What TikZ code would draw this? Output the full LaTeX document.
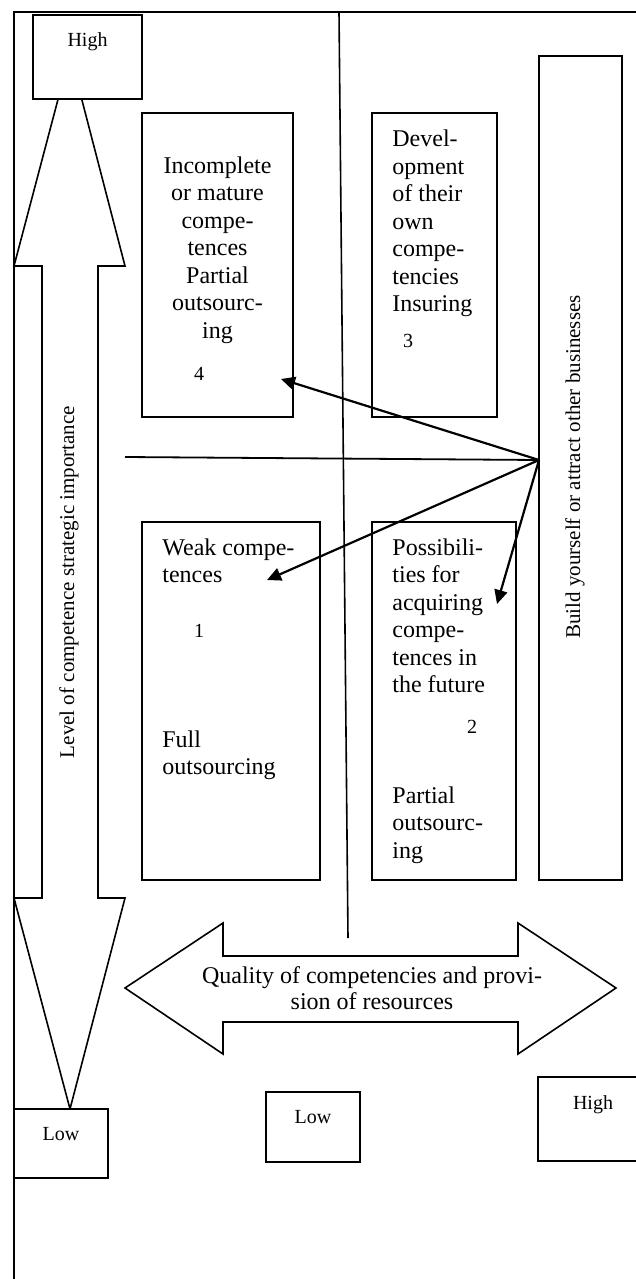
\documentclass[tikz,border=0pt]{standalone}
\usepackage{fontspec}
\setmainfont{Liberation Serif}
\usetikzlibrary{positioning, arrows.meta}

\begin{document}
\begin{tikzpicture}[x=0.5pt, y=-0.5pt, >={Triangle[length=7pt, width=6.5pt]},
    cell/.style={draw, line width=0.9pt, fill=white, anchor=north west, outer sep=0pt, inner sep=0pt},
    band/.style={draw, line width=0.8pt, fill=white},
    txt/.style={inner sep=0pt, anchor=base west, font=\fontsize{12}{13.75}\selectfont, align=left},
    tag/.style={inner sep=0pt, anchor=base, font=\fontsize{10}{12}\selectfont},
    axis/.style={inner sep=0pt, rotate=90, font=\fontsize{10.5}{12}\selectfont},
    link/.style={line width=1.1pt}]

\useasboundingbox (0,0) rectangle (636,1279);

% Frame and divider
\draw[line width=0.7pt] (636,12) -- (14,12) -- (14,1279);
\draw[line width=0.8pt] (339,12) -- (348,938);

% Double arrows
\draw[band] (70,54) -- (125,266) -- (98,266) -- (98,898) -- (125,898) -- (70,1109)
    -- (14,898) -- (42,898) -- (42,266) -- (14,266) -- cycle;
\draw[band] (125,988) -- (223,923) -- (223,956) -- (518,956) -- (518,923) -- (616,988)
    -- (518,1054) -- (518,1022) -- (223,1022) -- (223,1054) -- cycle;

% Define the boxes
\node[cell, minimum width=54.5pt, minimum height=42pt] (hiTop) at (33,15) {};
\node[cell, minimum width=75.5pt, minimum height=152pt] (inc) at (142,113) {};
\node[cell, minimum width=62.5pt, minimum height=152pt] (dev) [right=39.5pt of inc] {};
\node[cell, minimum width=89pt, minimum height=179pt] (weak) at (142,522) {};
\node[cell, minimum width=72pt, minimum height=179pt] (poss) [right=26pt of weak] {};
\node[cell, minimum width=41.5pt, minimum height=412pt] (build) at (539,56) {};
\node[cell, minimum width=47pt, minimum height=34.5pt] (loLeft) at (14,1109) {};
\node[cell, minimum width=47pt, minimum height=35pt] (loMid) at (266,1092) {};
\node[cell, minimum width=61pt, minimum height=42pt] (hiRight) at (538,1077) {};

% Texts (base = last line)
\node[tag] (hiTopTxt) at (87.5,47) {High};
\node[tag] (loLeftTxt) at (61,1140) {Low};
\node[tag] (loMidTxt) at (313,1123) {Low};
\node[tag] (hiRightTxt) at (593,1109) {High};

\node[txt, align=center, anchor=base] (incTxt) at (217.5,338)
    {Incomplete\\or mature\\compe-\\tences\\Partial\\outsourc-\\ing};
\node[tag] (incNum) at (199,380) {4};
\node[txt] (devTxt) at (392,311.5) {Devel-\\opment\\of their\\own\\compe-\\tencies\\Insuring};
\node[tag] (devNum) at (408,347) {3};
\node[txt] (weakTxt) at (162,582.5) {Weak compe-\\tences};
\node[tag] (weakNum) at (199,637) {1};
\node[txt] (weakOut) at (162,774.5) {Full\\outsourcing};
\node[txt] (possTxt) at (392,692.5) {Possibili-\\ties for\\acquiring\\compe-\\tences in\\the future};
\node[tag] (possNum) at (472,733) {2};
\node[txt] (possOut) at (392,858) {Partial\\outsourc-\\ing};

\node[axis] (level) at (69,582) {Level of competence strategic importance};
\node[axis] (buildTxt) at (575,467) {Build yourself or attract other businesses};
\node[txt, align=center, anchor=base, font=\fontsize{12}{13.25}\selectfont] (quality) at (372,1009.5)
    {Quality of competencies and provi-\\sion of resources};

% Hub and arrow ends
\coordinate (hub) at (539,460);
\coordinate (lineW) at (125,457);
\coordinate (tipInc) at (281,379);
\coordinate (tipWeak) at (267,580);
\coordinate (tipPoss) at (497,604);

\draw[line width=0.9pt] (lineW) -- (hub);
\path[->, link]
    (hub) edge (tipInc)
          edge (tipWeak)
          edge (tipPoss);

\end{tikzpicture}
\end{document}
